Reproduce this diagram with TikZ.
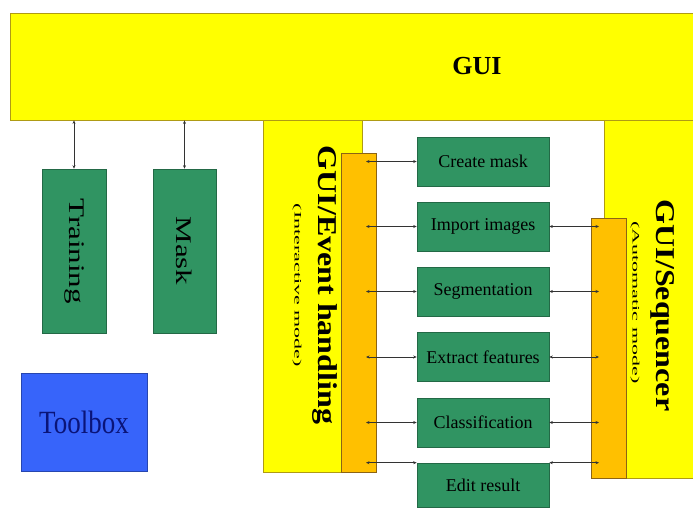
\documentclass[tikz,border=0pt]{standalone}
\usepackage{fontspec}
\setmainfont{Liberation Serif}
\usetikzlibrary{arrows.meta, positioning}
\definecolor{guiyellow}{RGB}{255,255,0}
\definecolor{panelline}{RGB}{175,155,20}
\definecolor{stagegreen}{RGB}{48,148,98}
\definecolor{stageline}{RGB}{35,105,70}
\definecolor{busorange}{RGB}{255,192,0}
\definecolor{busline}{RGB}{140,100,20}
\definecolor{toolblue}{RGB}{55,100,250}
\definecolor{tooltext}{RGB}{10,20,120}

\begin{document}
\begin{tikzpicture}[x=1pt, y=-1pt,
  panel/.style={draw=panelline, fill=guiyellow, line width=0.8pt, inner sep=0pt},
  bus/.style={draw=busline, fill=busorange, line width=0.8pt, minimum width=35pt, inner sep=0pt},
  stage/.style={draw=stageline, fill=stagegreen, line width=0.6pt, minimum width=132pt, minimum height=49pt, inner sep=0pt, font=\fontsize{18}{20}\selectfont},
  side/.style={draw=stageline, fill=stagegreen, line width=0.6pt, minimum height=164pt, inner sep=0pt},
  title/.style={inner sep=0pt, rotate=-90, font=\fontsize{32}{34}\selectfont\bfseries},
  mode/.style={inner sep=0pt, rotate=-90, font=\fontsize{22}{24}\selectfont},
  link/.style={{Stealth[length=3.5pt, width=3pt]}-{Stealth[length=3.5pt, width=3pt]}, line width=0.6pt, draw=black!80}
]
\useasboundingbox (0,0) rectangle (693,509);
\clip (0,0) rectangle (693,509);

% side panels below the GUI
\node[panel, minimum width=99pt, minimum height=352pt] (evt) at (312.5,296) {};
\node[panel, minimum width=120pt, minimum height=358pt] (seq) at (664,299) {};
\node[panel, minimum width=934pt, minimum height=107pt] (gui) at (477,66.5) {\fontsize{26}{28}\selectfont\bfseries GUI};

\node[title] (evttitle) at (325,285) {\scalebox{1}[0.85]{GUI/Event handling}};
\node[mode] (evtmode) at (297,285.5) {\scalebox{1}[0.45]{(Interactive mode)}};
\node[title] (seqtitle) at (663,305.5) {\scalebox{1}[0.85]{GUI/Sequencer}};
\node[mode] (seqmode) at (635,302.5) {\scalebox{1}[0.45]{(Automatic mode)}};

% buses
\node[bus, minimum height=319pt] (evtbus) at (358.5,312.5) {};
\node[bus, minimum height=260pt] (seqbus) at (608.5,348) {};
\coordinate (evtdot) at (366,0);
\coordinate (seqdot) at (599,0);

% processing stages
\node[stage] (create) at (483,161.5) {Create mask};
\node[stage] (import) at (483,226.5) {Import images};
\node[stage] (segment) at (483,291.5) {Segmentation};
\node[stage] (extract) at (483,357) {Extract features};
\node[stage] (classify) at (483,422.5) {Classification};
\node[stage, minimum height=44pt] (edit) at (483,485) {Edit result};

\foreach \s in {create, import, segment, extract, classify}
  \draw[link] (evtdot |- \s.west) -- (\s.west);
\draw[link] (evtdot |- edit.north west) -- (edit.north west);
\foreach \s in {import, segment, extract, classify}
  \draw[link] (\s.east) -- (seqdot |- \s.east);
\draw[link] (edit.north east) -- (seqdot |- edit.north east);

% training, mask, toolbox
\node[side, minimum width=64pt] (train) at (74,251) {};
\node[inner sep=0pt, rotate=-90, font=\fontsize{31}{33}\selectfont] (traintext) at (train) {\scalebox{1}[0.72]{Training}};
\node[side, minimum width=63pt] (mask) at (184.5,251) {};
\node[inner sep=0pt, rotate=-90, font=\fontsize{31}{33}\selectfont] (masktext) at (mask) {\scalebox{1}[0.72]{Mask}};
\draw[link] (gui.south -| train.north) -- (train.north);
\draw[link] (gui.south -| mask.north) -- (mask.north);

\node[draw=toolblue!70!black, fill=toolblue, line width=0.6pt, minimum width=126pt, minimum height=98pt, inner sep=0pt, text=tooltext, font=\fontsize{27}{29}\selectfont] (toolbox) at (84,422) {\scalebox{1}[1.2]{Toolbox}};
\end{tikzpicture}
\end{document}
